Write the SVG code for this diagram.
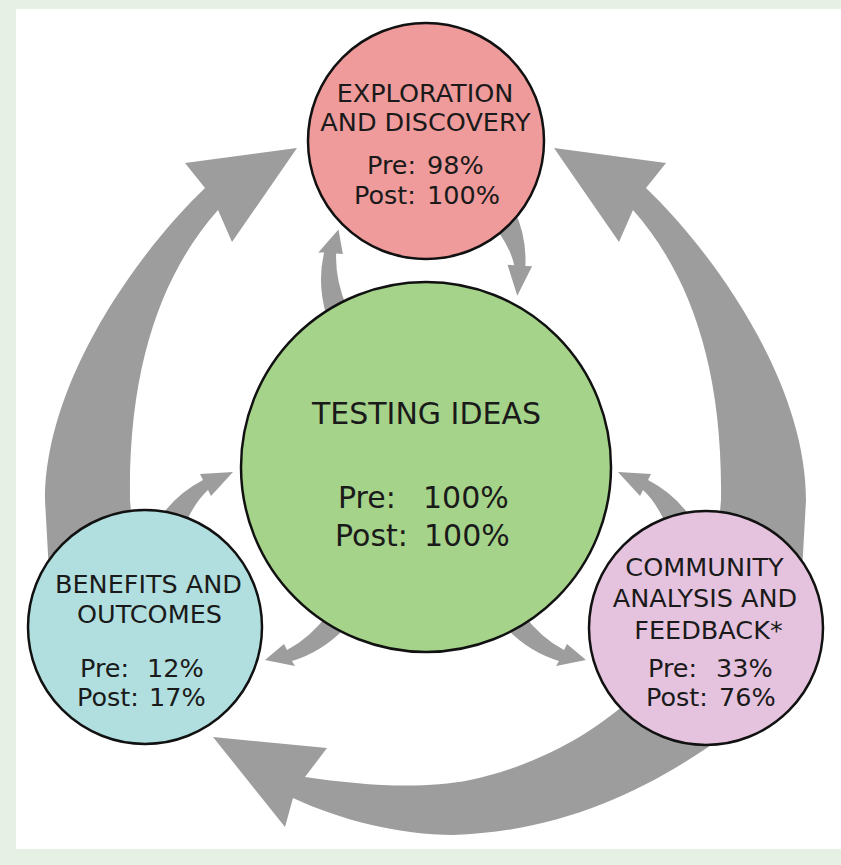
<svg xmlns="http://www.w3.org/2000/svg" xmlns:xlink="http://www.w3.org/1999/xlink" width="841" height="865" viewBox="0 0 841 865">
<style>
.arr{fill:#9d9d9d}
.node circle{stroke:#111;stroke-width:2.5}
text{font-family:"DejaVu Sans","Verdana",sans-serif;fill:#1a1a1a}
.t{font-size:25.5px;text-anchor:middle}
.v{font-size:25.5px}
.tb{font-size:30px;text-anchor:middle}
.vb{font-size:30px}
</style>
<defs>
<path id="big" d="M297,148 L185,163 L205,188 C140,250 45,380 45,500 L50,590 L135,560 L130,500 C128,360 165,270 218,210 L232,242 Z"/>
<path id="smA" d="M233,472 L200,474 L203,480 Q176,494 160,518 L188,518 Q197,500 208,490 L211,496 Z"/>
<path id="smB" d="M265,660 L284,644 L287,650 Q310,638 328,614 L345,628 Q322,652 292,661 L295,666 Z"/>
</defs>
<rect width="841" height="865" fill="#e6f0e4"/>
<rect x="16" y="9" width="825" height="840" fill="#ffffff"/>
<g id="connectors" class="arr">
<use xlink:href="#big"/>
<use xlink:href="#big" transform="translate(851,0) scale(-1,1)"/>
<path d="M213,737 L327,748 L305,777 C360,785 420,790 470,780 C540,765 600,730 640,690 L725,735 C650,790 560,832 453,835 C400,835 340,820 293,798 L285,827 Z"/>
<use xlink:href="#smA"/>
<use xlink:href="#smB"/>
<use xlink:href="#smA" transform="translate(851,0) scale(-1,1)"/>
<use xlink:href="#smB" transform="translate(851,0) scale(-1,1)"/>
<use xlink:href="#smA" transform="rotate(120 426 466)"/>
<use xlink:href="#smB" transform="rotate(120 426 466)"/>
</g>
<g id="exploration" class="node">
<circle cx="426" cy="141" r="118" fill="#ef9b9b"/>
<text class="t" x="425" y="102">EXPLORATION</text>
<text class="t" x="425.5" y="131">AND DISCOVERY</text>
<text class="v" y="174"><tspan x="367">Pre:</tspan><tspan x="427">98%</tspan></text>
<text class="v" y="204"><tspan x="354">Post:</tspan><tspan x="427">100%</tspan></text>
</g>
<g id="testing" class="node">
<circle cx="426" cy="467" r="185" fill="#a5d38a"/>
<text class="tb" x="426.5" y="424">TESTING IDEAS</text>
<text class="vb" y="508"><tspan x="338">Pre:</tspan><tspan x="423">100%</tspan></text>
<text class="vb" y="546"><tspan x="335">Post:</tspan><tspan x="424">100%</tspan></text>
</g>
<g id="benefits" class="node">
<circle cx="145" cy="627" r="117" fill="#b1dfdf"/>
<text class="t" x="148.5" y="593">BENEFITS AND</text>
<text class="t" x="149.5" y="623">OUTCOMES</text>
<text class="v" y="677"><tspan x="80">Pre:</tspan><tspan x="147">12%</tspan></text>
<text class="v" y="706"><tspan x="77">Post:</tspan><tspan x="149">17%</tspan></text>
</g>
<g id="community" class="node">
<circle cx="706" cy="628" r="117" fill="#e5c3de"/>
<text class="t" x="704.5" y="576">COMMUNITY</text>
<text class="t" x="705" y="607">ANALYSIS AND</text>
<text class="t" x="708.5" y="639">FEEDBACK*</text>
<text class="v" y="677"><tspan x="648">Pre:</tspan><tspan x="716">33%</tspan></text>
<text class="v" y="706"><tspan x="646">Post:</tspan><tspan x="719">76%</tspan></text>
</g>
</svg>
